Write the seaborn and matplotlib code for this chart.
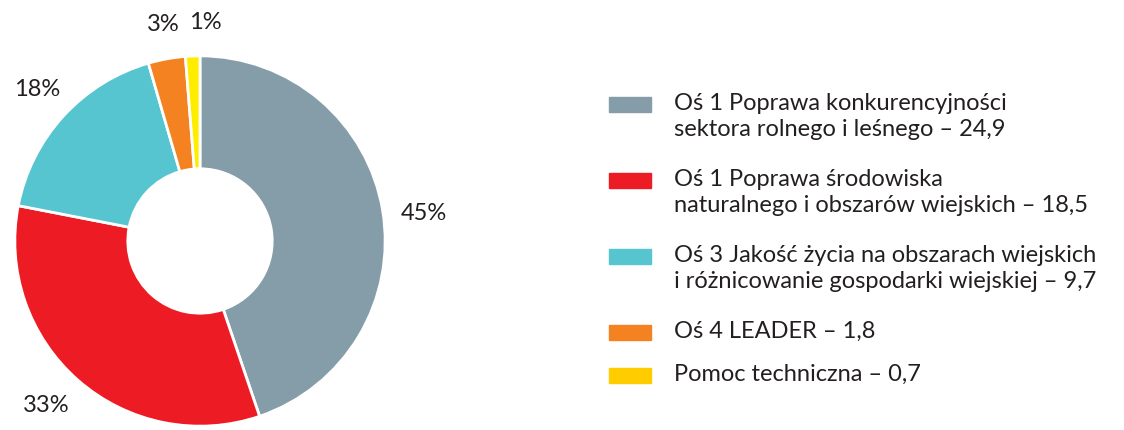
import matplotlib
matplotlib.use("Agg")
import matplotlib.pyplot as plt
import seaborn as sns
from matplotlib.patches import Rectangle

# Data
categories = [
    "Oś 1 Poprawa konkurencyjności\nsektora rolnego i leśnego – 24,9",
    "Oś 1 Poprawa środowiska\nnaturalnego i obszarów wiejskich – 18,5",
    "Oś 3 Jakość życia na obszarach wiejskich\ni różnicowanie gospodarki wiejskiej – 9,7",
    "Oś 4 LEADER – 1,8",
    "Pomoc techniczna – 0,7",
]
values = [24.9, 18.5, 9.7, 1.8, 0.7]
pct_labels = ["45%", "33%", "18%", "3%", "1%"]

# Styles
pie_colors = ["#859DA9", "#ED1C24", "#56C5D0", "#F58220", "#FFED00"]
legend_colors = ["#859DA9", "#ED1C24", "#56C5D0", "#F58220", "#FFCC00"]
label_pos = [(1.21, 0.15), (-0.83, -0.89), (-0.88, 0.82), (-0.20, 1.17), (0.03, 1.18)]
text_color = "#231F20"
fs = 17

sns.set_theme(style="white")
plt.rcParams["font.family"] = ["Lato", "DejaVu Sans"]

fig = plt.figure(figsize=(11.24, 4.3), dpi=100)
ax = fig.add_axes([13 / 1124, 2 / 430, 374 / 1124, 374 / 430])

ax.pie(values, colors=pie_colors, startangle=90, counterclock=False,
       radius=1.0, wedgeprops=dict(width=0.61, edgecolor="white", linewidth=2))
ax.set_xlim(-1.01, 1.01)
ax.set_ylim(-1.01, 1.01)
ax.set_aspect("equal")
ax.axis("off")

for lab, (x, y) in zip(pct_labels, label_pos):
    ax.text(x, y, lab, ha="center", va="center", fontsize=fs, color=text_color)

# Legend drawn by hand
W, H = 1124, 430
y = 104
for lab, col in zip(categories, legend_colors):
    fig.patches.append(Rectangle((609 / W, (H - y - 7.5) / H), 42 / W, 15 / H,
                                 transform=fig.transFigure, color=col))
    n = lab.count("\n") + 1
    fig.text(674 / W, (H - y + 11) / H, lab, ha="left", va="top", fontsize=fs,
             color=text_color, linespacing=1.3, transform=fig.transFigure)
    y += 76 if n > 1 else 43

fig.savefig("out.png", dpi=100)
